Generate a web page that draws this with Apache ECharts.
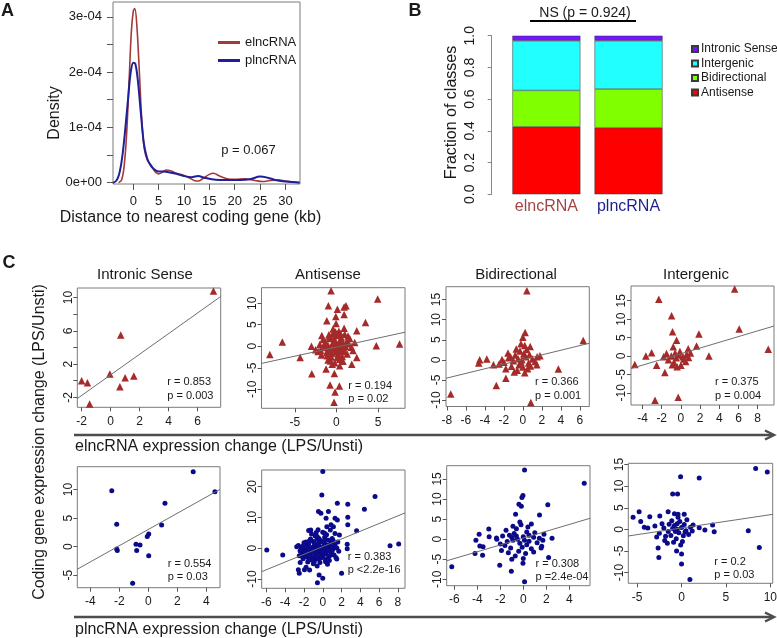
<!DOCTYPE html>
<html>
<head>
<meta charset="utf-8">
<title>elncRNA vs plncRNA</title>
<script src="https://cdn.jsdelivr.net/npm/echarts@6/dist/echarts.min.js"></script>
</head>
<body style="margin: 0">
<div id="container" style="width: 777px; height: 638px"></div>
<script type="text/javascript">
// ---- panel A: density of distance to nearest coding gene (density in units of 1e-4)
var densityXE = [-2.9, -2.3, -1.8, -1.3, -0.8, -0.4, 0, 0.3, 0.7, 1.2, 1.7, 2.2, 2.8, 3.5, 4.3, 5.0, 5.6, 6.5, 7.5, 8.5, 10, 11, 12, 12.8, 13.8, 15, 15.8, 17, 18.5, 20, 22, 24, 25.5, 27, 28.5, 30, 32.8];
var densityE  = [0, 0.05, 0.3, 0.9, 1.9, 2.7, 3.1, 3.15, 2.85, 2.0, 1.1, 0.6, 0.4, 0.32, 0.2, 0.16, 0.18, 0.23, 0.21, 0.17, 0.13, 0.09, 0.04, 0.03, 0.08, 0.15, 0.17, 0.12, 0.07, 0.06, 0.07, 0.04, 0.02, 0.04, 0.05, 0.03, 0];
var densityXP = [-4, -3.4, -2.8, -2.2, -1.6, -1.0, -0.5, 0, 0.4, 0.9, 1.5, 2.1, 2.7, 3.3, 4.0, 5.0, 6.0, 7.0, 8.5, 10, 11.5, 12.8, 14, 15.5, 17, 19, 21, 23, 25, 26.5, 28, 30, 32.8];
var densityP  = [0, 0.03, 0.15, 0.45, 0.95, 1.55, 2.0, 2.17, 2.15, 1.85, 1.25, 0.7, 0.45, 0.33, 0.25, 0.2, 0.2, 0.19, 0.16, 0.12, 0.1, 0.12, 0.09, 0.06, 0.05, 0.05, 0.05, 0.06, 0.11, 0.09, 0.05, 0.02, 0.005];
var densityP_value = 'p = 0.067';

// ---- panel B: fraction of classes
var groups = ['elncRNA', 'plncRNA'];
var classNames = ['Antisense', 'Bidirectional', 'Intergenic', 'Intronic Sense'];
var fractionE = [0.426, 0.229, 0.313, 0.032];
var fractionP = [0.420, 0.244, 0.304, 0.032];
var classTest = 'NS (p = 0.924)';

// ---- panel C: expression change scatter, elncRNA (top) and plncRNA (bottom)
var panelTitles = ['Intronic Sense', 'Antisense', 'Bidirectional', 'Intergenic'];

var intronicE = [[7.1, 10.8], [0.7, 5.5], [-0.05, 0.8], [-2.0, 0], [-1.6, -0.25], [1.0, 0.35], [0.64, -0.73], [1.6, 0.55], [-1.45, -2.8]];
var antisenseE = [[-0.64, 12.9], [4.97, 11.0], [-0.96, 9.4], [0.12, 8.6], [0.93, 9.1], [1.16, 9.4], [-1.15, 5.9], [-0.07, 6.9], [0.93, 7.4], [3.5, 5.5], [-0.04, 5.3], [0.93, 4.2], [2.45, 3.6], [-1.75, 2.5], [-6.5, 1.0], [-8.0, -1.9], [-4.36, -2.6], [4.8, 0.15], [7.6, 0.5], [-2.95, -6.4], [2.45, -2.6], [1.85, -4.2], [-0.24, -6.3], [-1.24, -5.3], [-0.76, -9.0], [0.36, -9.2], [-0.16, -10.6], [-0.28, -13.0],
  [-0.5, 0.5], [-0.2, 1.2], [0.3, 0.8], [-1.0, 0.2], [0.8, 0.3], [-0.3, -0.5], [0.5, -0.8], [-1.5, -0.3], [1.2, 1.0], [-0.8, 1.8], [0.1, 2.5], [-0.4, 3.0], [0.6, 2.0], [1.5, 0.6], [-2.0, 0.4], [-2.5, -0.8], [1.8, -0.2], [-1.2, -1.5], [0.2, -1.8], [0.9, -1.2], [-0.6, -2.5], [0.4, -3.0], [-0.2, -3.8], [-1.0, -3.2], [0.7, -2.4], [1.3, -1.8], [-1.8, -2.0], [-0.1, 0.0], [0.0, -1.0], [-0.7, -0.8], [0.6, 1.4], [-1.3, 1.0], [2.2, 0.9], [-0.4, 4.0], [0.3, 3.5], [-0.9, 2.7], [1.0, 2.8], [-1.6, 1.6], [0.4, -4.5], [-0.5, -4.2], [-2.2, -1.2], [2.0, -1.0], [-3.0, 0.0], [1.6, 1.8], [-0.3, 1.9], [0.9, -0.4], [-1.1, -0.2], [0.2, 0.4], [-0.6, -1.6], [1.1, 0.0],
  [-0.9, -0.9], [0.4, 0.1], [-0.2, 0.7], [0.6, -0.2], [-1.4, 0.6], [-0.4, -1.3], [0.3, -1.2], [-0.8, 2.3], [0.5, 2.9], [-0.1, 3.3], [-1.1, -2.2], [0.1, -2.6], [-0.7, -3.4], [0.8, -3.5], [1.4, 2.4], [-1.9, -0.9]];
var bidirectionalE = [[0.42, 17.2], [0.24, 6.8], [0, 5.6], [6.36, 4.8], [-0.7, 2.7], [0.77, 3.3], [-1.57, 1.7], [-4.55, 0], [-3.8, 0.2], [-4.65, -0.8], [-3.1, -1.2], [1.8, 1.0], [1.47, -1.2], [3.74, -2.3], [-1.79, -4.6], [-2.8, -6.4], [-7.6, -8.5], [0.84, -10.6],
  [-0.5, 0.3], [-0.2, -0.5], [0.3, 0.8], [-1.0, -0.2], [0.6, -0.8], [-1.5, 0.5], [-2.0, -0.6], [-2.5, -1.0], [0.1, 1.5], [-0.8, 1.2], [1.0, 0.2], [-0.3, 2.2], [0.4, 2.6], [-1.2, -1.6], [0.0, -1.8], [0.8, -1.5], [-0.6, -2.6], [0.2, -3.2], [-1.8, -2.2], [1.3, -0.4], [-0.1, 0.0], [-2.2, 0.1], [0.7, 1.3], [-0.4, -1.2], [1.5, 0.8], [-1.3, 0.8], [0.5, -2.2], [-0.9, -3.0], [0.2, 3.6], [-0.2, 4.0]];
var intergenicE = [[5.6, 18.2], [-2.3, 15.4], [-0.97, 10.9], [6.07, 7.3], [-0.87, 6.6], [1.88, 6.0], [-0.45, 4.3], [-0.8, 2.5], [0.76, 2.0], [1.63, 2.7], [9.1, 1.8], [2.92, 0], [-3.65, 0], [-4.8, -2.3], [-3.05, 0.9], [-2.53, -2.5], [-1.67, -4.5], [-2.7, -12.0], [-0.28, -11.2],
  [-0.5, -0.5], [-0.2, 0.3], [0.3, -0.8], [-1.0, 0.0], [0.6, 0.5], [-1.3, -1.0], [-0.7, -1.8], [0.0, -2.5], [-0.4, -2.9], [0.5, -1.5], [-1.8, -0.2], [1.0, 0.8], [-0.1, 1.2], [-0.6, 0.8], [0.2, -0.2], [-1.5, 0.7], [0.8, -0.4], [-0.9, -2.4]];

var intronicP = [[3.1, 13.1], [4.6, 9.6], [-2.52, 9.8], [1.15, 7.6], [-2.18, 3.9], [0.92, 3.8], [0.03, 2.2], [-0.07, 1.75], [-0.85, 0.4], [-0.57, 0.3], [-2.18, -0.4], [-2.14, -0.7], [-0.8, -0.7], [0.03, -1.6], [-1.08, -6.4]];
var antisenseP = [[0, 24.9], [-0.1, 17.3], [5.56, 16.8], [1.55, 14.6], [2.66, 14.3], [4.43, 12.7], [-0.46, 11.9], [-0.2, 11.4], [0.6, 11.9], [0.35, 9.7], [1.3, 9.7], [1.55, 9.2], [2.66, 10.1], [2.66, 7.6], [0.88, 7.6], [1.13, 7.0], [0.43, 7.0], [-1.28, 5.9], [3.6, 5.7], [1.77, 4.3], [-5.96, -0.55], [-4.26, -2.2], [7.16, 0.85], [8.08, 1.4], [2.6, 1.3], [2.6, -0.2], [1.49, -3.5], [-1.95, -7.0], [-1.4, -7.1], [-2.5, -8.1], [-0.39, -8.7], [0, -9.7], [-0.57, -11.2], [2.0, -8.1], [-2.6, -7.0], [-2.77, 0.5], [-2.4, -0.9], [-2.5, -2.4], [-2.4, -4.6], [-1.78, -6.2],
  [-0.5, 0], [0, 0.5], [-1, 0.5], [-0.3, -0.8], [0.4, -0.4], [-1.2, -0.6], [0.8, 0.6], [-0.8, 1.2], [0.2, 1.5], [-1.6, 0.2], [1.1, -0.2], [-0.6, -1.6], [0.3, -1.9], [-1.4, -1.8], [0.9, -1.4], [-2.0, -0.4], [-1.9, 1.0], [1.3, 1.2], [-0.2, 2.4], [-1.0, 2.2], [0.6, 2.6], [-0.4, 3.2], [0.2, 3.6], [-1.3, 3.0], [1.0, 3.2], [-0.8, 4.0], [0.4, 4.4], [-1.8, 2.0], [-2.3, 0.3], [1.5, 0.1], [-0.9, -2.6], [0, -2.8], [-1.7, -2.8], [0.7, -2.6], [-0.5, -3.5], [-1.2, -3.8], [0.3, -3.9], [-2.2, -1.5], [1.2, -2.2], [-0.3, -4.6], [-1.0, -5.0], [0.5, -5.2], [-1.6, -4.5], [-0.6, -5.8], [-2.1, -3.4], [1.4, -3.0], [-0.1, -1.2], [-0.7, 0.8], [0.1, -0.3], [-1.5, 1.5], [0.5, 1.0], [-1.1, -1.1], [-0.4, 1.8], [0.9, 1.9], [-2.4, -0.8], [-2.0, 1.8], [1.7, -1.0], [-0.2, -2.1], [-0.9, 0.1], [0.0, 2.0], [-1.3, -2.4], [1.1, 2.5], [-0.6, 2.9], [0.3, -4.4], [-1.9, -2.1], [-0.8, -3.1], [0.6, -1.0], [-0.3, 0.3], [-1.8, -1.0], [0.8, 0.1], [-2.6, 0.9], [-1.2, 4.6], [0.0, 5.2], [-0.5, 6.0], [-1.5, 5.8], [1.3, 4.8], [0.8, 5.9],
  [-0.7, -0.4], [-0.2, -0.5], [0.2, 0.1], [-1.0, -0.2], [-0.4, 0.6], [0.6, -0.3], [-1.3, 0.2], [-0.8, -1.2], [0.1, -1.5], [-0.5, 1.3], [0.4, 0.7], [-1.6, -0.8], [-0.2, -3.2], [-1.1, -3.0], [0.5, -3.3], [-0.6, 3.8], [-1.4, 2.5], [1.2, 0.6], [-2.1, 0.7], [0.9, -2.0], [-1.7, -1.4], [-0.9, 1.7], [0.3, 2.8], [-0.4, -2.3], [-1.5, -3.2], [0.7, -4.0], [-0.9, -4.3], [1.0, -0.8], [-2.2, -2.5], [0.2, 4.9], [-0.7, 5.1], [1.6, 2.0]];
var bidirectionalP = [[0.11, 17.2], [5.3, 13.9], [-0.03, 10.9], [-0.12, 10.4], [-0.38, 8.7], [-0.17, 8.2], [2.13, 8.6], [-0.67, 6.2], [1.41, 6.0], [-3.0, 2.5], [-3.84, 1.2], [-2.97, 0.6], [-4.12, -0.25], [-2.33, 0.3], [-3.78, -1.7], [-3.5, -1.9], [-4.2, -3.6], [-3.54, -4.0], [2.5, 0.2], [1.7, -0.25], [1.55, -2.2], [2.2, -4.6], [-2.05, -6.5], [-1.04, -8.0], [-0.03, -6.0], [-6.22, -6.9], [0.11, -10.6],
  [-0.5, 0], [0, 0.6], [-1, 0.4], [0.5, -0.5], [-0.3, -1.0], [0.9, 0.5], [-1.4, -0.6], [-0.8, 1.4], [0.3, 1.8], [1.2, -0.9], [-1.8, 0.8], [-0.1, -2.0], [-1.1, -2.2], [0.7, -2.4], [-0.6, 2.6], [0.4, 3.0], [-1.5, 2.2], [1.0, 1.6], [-2.0, -1.2], [-0.4, -3.0], [0.2, -3.6], [-1.3, -3.4], [0.9, -3.2], [-0.7, -4.2], [-1.9, -2.8], [1.4, 0.2], [0.1, -0.3], [-0.6, 0.8], [0.5, 1.0], [-1.2, 1.0], [-0.2, 3.6], [-0.9, 3.2], [0.7, 3.8], [-1.6, -1.6], [1.6, -1.8], [-0.3, 4.3], [0.0, -4.8], [-1.0, -5.0], [-2.3, 0.0], [1.8, 1.2], [-0.9, -0.3], [0.3, -1.4]];
var intergenicP = [[8.35, 14.1], [9.66, 13.3], [-0.11, 12.2], [1.99, 11.9], [-1.0, 8.2], [-0.45, 8.2], [-5.46, 2.8], [-4.78, 4.1], [-3.58, 2.9], [-2.45, 3.1], [-1.51, 4.1], [-0.8, 3.6], [-0.4, 3.5], [0.3, 3.5], [7.52, -0.3], [8.76, -4.2], [3.5, 1.0], [3.68, -0.55], [2.63, -0.16], [1.99, 0.37], [-2.64, -4.3], [-2.56, -6.5], [-0.56, -5.0], [0, -5.7], [0, -8.0], [0.94, -11.6], [-4.2, 0.5], [-3.8, 0.3], [-4.6, 1.8],
  [-0.5, 0], [0, 0.4], [-1, 0.2], [0.5, -0.3], [-0.3, -0.8], [-1.5, -0.5], [-0.8, 0.9], [0.3, 1.1], [-2.0, 0.3], [1.0, 0.5], [-1.2, -1.4], [0.2, -1.5], [-0.6, -2.2], [-1.8, -1.6], [0.8, -1.2], [-2.5, -0.9], [-0.2, 1.8], [-1.1, 2.0], [0.6, 2.2], [-2.2, 1.3], [-0.9, -3.0], [0.1, -2.8], [-1.6, -3.2], [1.2, -0.4], [-2.8, -1.8], [-0.4, 2.8], [-1.4, 1.2], [0.4, -0.6], [-0.7, -0.5], [-1.9, -2.6], [-0.1, -3.6], [-3.0, 0.8], [1.3, 1.0], [-0.5, 1.3]];

// regression lines
var eSlope = [1.24, 0.42, 0.576, 0.775];
var eIntercept = [0.7, -0.2, 0.09, 0.62];
var pSlope = [1.42, 1.25, 0.85, 0.308];
var pIntercept = [3.0, 0.53, 0.26, 0.31];
var eRText = ['r = 0.853', 'r = 0.194', 'r = 0.366', 'r = 0.375'];
var ePText = ['p = 0.003', 'p = 0.02', 'p = 0.001', 'p = 0.004'];
var pRText = ['r = 0.554', 'r = 0.383', 'r = 0.308', 'r = 0.2'];
var pPText = ['p = 0.03', 'p <2.2e-16', 'p =2.4e-04', 'p = 0.03'];

// axis limits and ticks
var eXRange = [[-2.3, 7.6], [-9.0, 8.25], [-8.1, 7.0], [-5.2, 9.7]];
var eYRange = [[-3.2, 11.15], [-14.4, 13.6], [-11.6, 18.2], [-13.3, 19.0]];
var pXRange = [[-4.9, 4.95], [-6.5, 8.75], [-6.66, 5.8], [-6.0, 10.27]];
var pYRange = [[-7.2, 14.0], [-13.0, 25.4], [-11.6, 18.3], [-12.5, 15.3]];
var eXTicks = [[-2, 0, 2, 4, 6], [-5, 0, 5], [-8, -6, -4, -2, 0, 2, 4, 6], [-4, -2, 0, 2, 4, 6, 8]];
var eYTicks = [[-2, 0, 2, 4, 6, 8, 10], [-10, -5, 0, 5, 10], [-10, -5, 0, 5, 10, 15], [-10, -5, 0, 5, 10, 15]];
var eYLabels = [[-2, 2, 6, 10], [-10, -5, 0, 5, 10], [-10, -5, 0, 5, 10, 15], [-10, -5, 0, 5, 10, 15]];
var pXTicks = [[-4, -2, 0, 2, 4], [-6, -4, -2, 0, 2, 4, 6, 8], [-6, -4, -2, 0, 2, 4], [-5, 0, 5, 10]];
var pYTicks = [[-5, 0, 5, 10], [-10, 0, 10, 20], [-10, -5, 0, 5, 10, 15], [-10, -5, 0, 5, 10, 15]];

var eData = [intronicE, antisenseE, bidirectionalE, intergenicE];
var pData = [intronicP, antisenseP, bidirectionalP, intergenicP];

// layout (pixels)
var eBoxes = [[77.3, 288, 143.4, 119.3], [261.5, 287.7, 143.5, 120.6], [446, 286.7, 143.3, 119.8], [631, 286, 143, 119]];
var pBoxes = [[77.3, 466.7, 142.7, 121], [261.7, 470, 143.3, 118.3], [446.7, 465.7, 143.3, 120], [628.3, 463.3, 144.4, 120]];
var eStatPos = [[167.3, 382.3], [348.3, 385.7], [535, 382.3], [715, 382.3]];
var pStatPos = [[167.7, 564], [347.7, 557.3], [535.5, 564.3], [714.3, 562.3]];
var titleX = [145, 328, 516, 696];

var FONT = '"Liberation Sans", Arial, sans-serif';
var INK = '#1a1a1a';
var BOX = '#7a7a7a';

var dom = document.getElementById('container');
var myChart = echarts.init(dom);

function zip(xs, ys) {
    var out = [];
    for (var i = 0; i < xs.length; i++) out.push([xs[i], ys[i]]);
    return out;
}

function txt(x, y, s, size, opts) {
    opts = opts || {};
    return {
        type: 'text', x: x, y: y, rotation: opts.rotation || 0, silent: true,
        style: {
            text: s, font: (opts.bold ? 'bold ' : '') + size + 'px ' + FONT,
            fill: opts.color || INK,
            textAlign: opts.align || 'center', align: opts.align || 'center',
            textVerticalAlign: 'middle', verticalAlign: 'middle'
        }
    };
}

var grids = [], xAxes = [], yAxes = [], series = [], graphics = [];

// ---- panel A
grids.push({left: 113, top: 2, width: 187, height: 182, show: true, borderColor: BOX, borderWidth: 1, outerBoundsMode: 'none'});
xAxes.push({
    gridIndex: 0, type: 'value', min: -4.0, max: 32.88,
    axisLine: {show: false, onZero: false}, splitLine: {show: false},
    axisTick: {length: 6, lineStyle: {color: '#555'}, customValues: [0, 5, 10, 15, 20, 25, 30]},
    axisLabel: {customValues: [0, 5, 10, 15, 20, 25, 30], margin: 11, fontSize: 13, color: INK, fontFamily: FONT}
});
yAxes.push({
    gridIndex: 0, type: 'value', min: -0.024, max: 3.268,
    axisLine: {show: false, onZero: false}, splitLine: {show: false},
    axisTick: {length: 6, lineStyle: {color: '#555'}, customValues: [0, 0.5, 1, 1.5, 2, 2.5, 3]},
    axisLabel: {
        customValues: [0, 1, 2, 3], margin: 11, fontSize: 13, color: INK, fontFamily: FONT,
        formatter: function (v) { return v === 0 ? '0e+00' : v + 'e-04'; }
    }
});
series.push({
    type: 'line', name: 'elncRNA', xAxisIndex: 0, yAxisIndex: 0, data: zip(densityXE, densityE),
    smooth: 0.35, showSymbol: false, symbol: 'none', lineStyle: {color: '#a33a3a', width: 1.6}, itemStyle: {color: '#a33a3a'}
});
series.push({
    type: 'line', name: 'plncRNA', xAxisIndex: 0, yAxisIndex: 0, data: zip(densityXP, densityP),
    smooth: 0.35, showSymbol: false, symbol: 'none', lineStyle: {color: '#1f1f99', width: 2}, itemStyle: {color: '#1f1f99'}
});
graphics.push(txt(248.5, 150.7, densityP_value, 13));
graphics.push(txt(190.5, 218, 'Distance to nearest coding gene (kb)', 16));
graphics.push(txt(55, 113, 'Density', 16, {rotation: Math.PI / 2}));
graphics.push(txt(7.5, 11, 'A', 18, {bold: true}));

// ---- panel B
grids.push({left: 505.3, top: 35.7, width: 164.3, height: 158.6, outerBoundsMode: 'none'});
xAxes.push({
    gridIndex: 1, type: 'category',
    data: [{value: groups[0], textStyle: {color: '#a34545'}}, {value: groups[1], textStyle: {color: '#1f1f8f'}}],
    axisLine: {show: false, onZero: false}, axisTick: {show: false},
    axisLabel: {margin: 4, fontSize: 16, fontFamily: FONT}
});
yAxes.push({
    gridIndex: 1, type: 'value', min: 0, max: 1, interval: 0.2, offset: 13.6,
    axisLine: {show: true, onZero: false, lineStyle: {color: '#888'}}, splitLine: {show: false},
    axisTick: {show: true, length: 4, lineStyle: {color: '#888'}},
    axisLabel: {rotate: 90, margin: 15, fontSize: 14, color: INK, fontFamily: FONT,
        formatter: function (v) { return v.toFixed(1); }}
});
var classColors = {'Antisense': '#ff0000', 'Bidirectional': '#7fff00', 'Intergenic': '#22ffff', 'Intronic Sense': '#7216ff'};
for (var c = 0; c < classNames.length; c++) {
    series.push({
        type: 'bar', name: classNames[c], stack: 'frac', xAxisIndex: 1, yAxisIndex: 1,
        barWidth: 68, data: [fractionE[c], fractionP[c]],
        itemStyle: {color: classColors[classNames[c]], borderColor: '#3a3a3a', borderWidth: 0.5}
    });
}
graphics.push(txt(585, 13, classTest, 14));
graphics.push({type: 'line', silent: true, shape: {x1: 530, y1: 21, x2: 636, y2: 21}, style: {stroke: '#000', lineWidth: 2}});
graphics.push(txt(451.7, 112.5, 'Fraction of classes', 16, {rotation: Math.PI / 2}));
graphics.push(txt(415, 11, 'B', 18, {bold: true}));

// ---- panel C
function addScatter(box, xr, yr, xt, xl, yt, yl, pts, slope, icpt, sym, col, size) {
    var gi = grids.length;
    grids.push({left: box[0], top: box[1], width: box[2], height: box[3], show: true,
        borderColor: BOX, borderWidth: 1, outerBoundsMode: 'none'});
    xAxes.push({
        gridIndex: gi, type: 'value', min: xr[0], max: xr[1],
        axisLine: {show: false, onZero: false}, splitLine: {show: false},
        axisTick: {length: 4, lineStyle: {color: '#555'}, customValues: xt},
        axisLabel: {customValues: xl, margin: 8, fontSize: 12, color: INK, fontFamily: FONT}
    });
    yAxes.push({
        gridIndex: gi, type: 'value', min: yr[0], max: yr[1],
        axisLine: {show: false, onZero: false}, splitLine: {show: false},
        axisTick: {length: 4, lineStyle: {color: '#555'}, customValues: yt},
        axisLabel: {customValues: yl, rotate: 90, margin: 3, fontSize: 12, color: INK, fontFamily: FONT}
    });
    series.push({
        type: 'scatter', xAxisIndex: gi, yAxisIndex: gi, data: pts, symbol: sym, symbolSize: size,
        itemStyle: {color: col, opacity: 1}, silent: true
    });
    series.push({
        type: 'line', xAxisIndex: gi, yAxisIndex: gi, symbol: 'none', silent: true,
        data: [[xr[0], icpt + slope * xr[0]], [xr[1], icpt + slope * xr[1]]],
        lineStyle: {color: '#6e6e6e', width: 1}
    });
}

for (var k = 0; k < 4; k++) {
    addScatter(eBoxes[k], eXRange[k], eYRange[k], eXTicks[k], eXTicks[k], eYTicks[k], eYLabels[k],
        eData[k], eSlope[k], eIntercept[k], 'triangle', '#a52a2a', 7.5);
    graphics.push(txt(titleX[k], 275, panelTitles[k], 15));
    graphics.push(txt(eStatPos[k][0], eStatPos[k][1], eRText[k], 11, {align: 'left'}));
    graphics.push(txt(eStatPos[k][0], eStatPos[k][1] + 13.4, ePText[k], 11, {align: 'left'}));
}
for (k = 0; k < 4; k++) {
    addScatter(pBoxes[k], pXRange[k], pYRange[k], pXTicks[k], pXTicks[k], pYTicks[k], pYTicks[k],
        pData[k], pSlope[k], pIntercept[k], 'circle', '#0a0a8a', 5);
    graphics.push(txt(pStatPos[k][0], pStatPos[k][1], pRText[k], 11, {align: 'left'}));
    graphics.push(txt(pStatPos[k][0], pStatPos[k][1] + 12.8, pPText[k], 11, {align: 'left'}));
}

// arrows under each row
[435, 617].forEach(function (y) {
    graphics.push({type: 'line', silent: true, shape: {x1: 74, y1: y, x2: 773, y2: y}, style: {stroke: '#4d4d4d', lineWidth: 2.5}});
    graphics.push({type: 'polyline', silent: true, shape: {points: [[765, y - 4.5], [774, y], [765, y + 4.5]]},
        style: {stroke: '#4d4d4d', lineWidth: 2.5, fill: null}});
});
graphics.push(txt(75, 447, 'elncRNA expression change (LPS/Unsti)', 16, {align: 'left'}));
graphics.push(txt(75, 630, 'plncRNA expression change (LPS/Unsti)', 16, {align: 'left'}));
graphics.push(txt(40, 442, 'Coding gene expression change (LPS/Unsti)', 16, {rotation: Math.PI / 2}));
graphics.push(txt(9, 263, 'C', 18, {bold: true}));

var option = {
    animation: false,
    backgroundColor: '#fff',
    textStyle: {fontFamily: FONT},
    legend: [
        {data: ['elncRNA', 'plncRNA'], left: 213, top: 31, orient: 'vertical', icon: 'rect',
            itemWidth: 22, itemHeight: 3, itemGap: 5, textStyle: {fontSize: 13, color: INK, fontFamily: FONT}},
        {data: ['Intronic Sense', 'Intergenic', 'Bidirectional', 'Antisense'], left: 691, top: 43, orient: 'vertical',
            icon: 'rect', itemWidth: 6, itemHeight: 6, itemGap: 2.5, padding: 0,
            textStyle: {fontSize: 12, color: INK, fontFamily: FONT, padding: [0, 0, 0, -2]}}
    ],
    grid: grids,
    xAxis: xAxes,
    yAxis: yAxes,
    series: series,
    graphic: graphics
};

myChart.setOption(option);
</script>
</body>
</html>
